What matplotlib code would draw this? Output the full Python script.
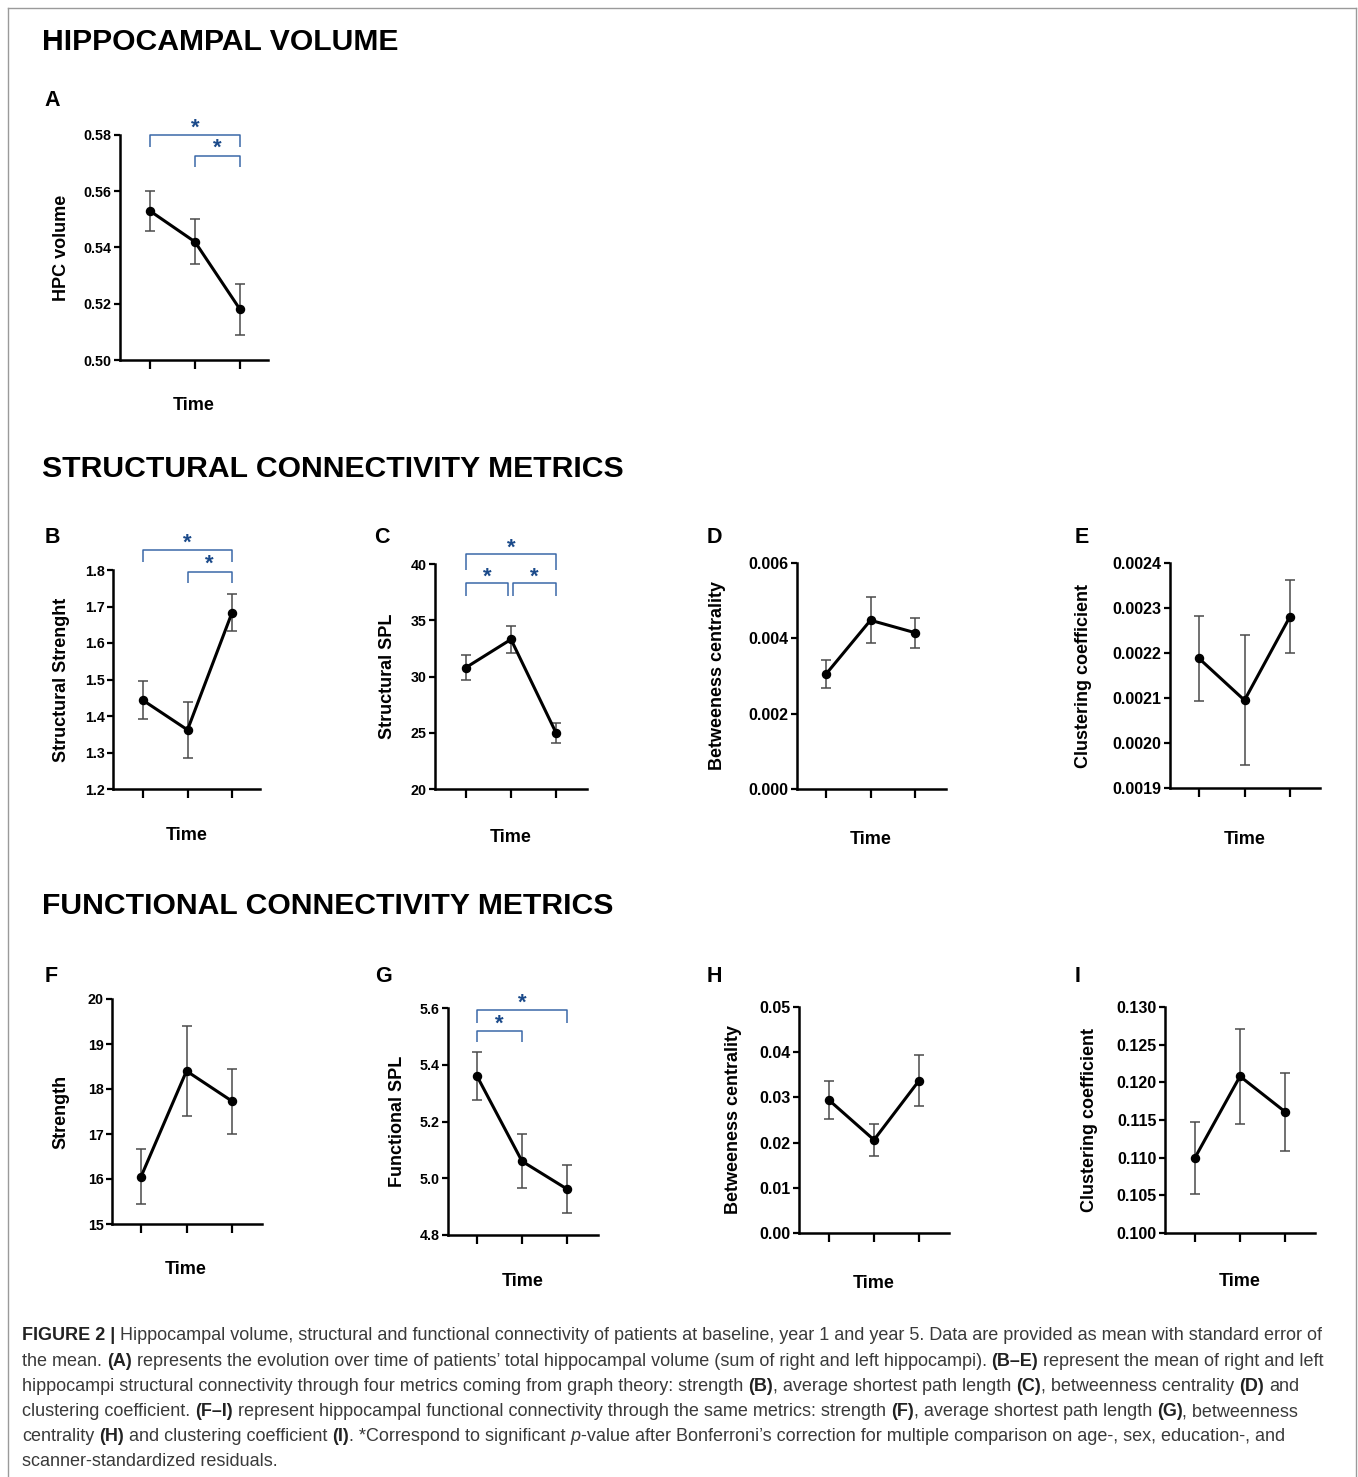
import numpy as np
import matplotlib
matplotlib.use('Agg')
import matplotlib.pyplot as plt
from matplotlib import font_manager
from matplotlib.lines import Line2D

W, H = 1358, 1477
DPI = 100

# ---- data (mean +/- SEM at baseline, year 1, year 5) ----
time_points = [0, 1, 2]

hpc_mean = [0.553, 0.542, 0.518]
hpc_sem = [0.007, 0.008, 0.009]
hpc_ticks = ['0.50', '0.52', '0.54', '0.56', '0.58']

s_str_mean = [1.443, 1.362, 1.683]
s_str_sem = [0.052, 0.076, 0.050]
s_str_ticks = ['1.2', '1.3', '1.4', '1.5', '1.6', '1.7', '1.8']

s_spl_mean = [30.8, 33.3, 25.0]
s_spl_sem = [1.1, 1.2, 0.9]
s_spl_ticks = ['20', '25', '30', '35', '40']

s_bc_mean = [0.00305, 0.00448, 0.00415]
s_bc_sem = [0.00038, 0.00061, 0.00040]
s_bc_ticks = ['0.000', '0.002', '0.004', '0.006']

s_cc_mean = [0.002188, 0.002095, 0.002281]
s_cc_sem = [0.000095, 0.000144, 0.000081]
s_cc_ticks = ['0.0019', '0.0020', '0.0021', '0.0022', '0.0023', '0.0024']

f_str_mean = [16.05, 18.40, 17.73]
f_str_sem = [0.61, 0.99, 0.72]
f_str_ticks = ['15', '16', '17', '18', '19', '20']

f_spl_mean = [5.360, 5.060, 4.962]
f_spl_sem = [0.085, 0.096, 0.083]
f_spl_ticks = ['4.8', '5.0', '5.2', '5.4', '5.6']

f_bc_mean = [0.0294, 0.0206, 0.0337]
f_bc_sem = [0.0042, 0.0036, 0.0057]
f_bc_ticks = ['0.00', '0.01', '0.02', '0.03', '0.04', '0.05']

f_cc_mean = [0.1100, 0.1208, 0.1161]
f_cc_sem = [0.0048, 0.0063, 0.0052]
f_cc_ticks = ['0.100', '0.105', '0.110', '0.115', '0.120', '0.125', '0.130']

# significant pairwise comparisons
sig_A = [(0, 2), (1, 2)]
sig_B = [(0, 2), (1, 2)]
sig_C = [(0, 2), (0, 1), (1, 2)]
sig_G = [(0, 2), (0, 1)]

headings = ['HIPPOCAMPAL VOLUME', 'STRUCTURAL CONNECTIVITY METRICS',
            'FUNCTIONAL CONNECTIVITY METRICS']

caption = [
    '**FIGURE 2 |** Hippocampal volume, structural and functional connectivity of patients at baseline, year 1 and year 5. Data are provided as mean with standard error of',
    'the mean. **(A)** represents the evolution over time of patients\u2019 total hippocampal volume (sum of right and left hippocampi). **(B\u2013E)** represent the mean of right and left',
    'hippocampi structural connectivity through four metrics coming from graph theory: strength **(B)**, average shortest path length **(C)**, betweenness centrality **(D)** and',
    'clustering coefficient. **(F\u2013I)** represent hippocampal functional connectivity through the same metrics: strength **(F)**, average shortest path length **(G)**, betweenness',
    'centrality **(H)** and clustering coefficient **(I)**. *Correspond to significant __p__-value after Bonferroni\u2019s correction for multiple comparison on age-, sex, education-, and',
    'scanner-standardized residuals.',
]

plt.rcParams['font.family'] = ['Liberation Sans', 'DejaVu Sans']

fig = plt.figure(figsize=(W / DPI, H / DPI), dpi=DPI)
fig.patch.set_facecolor('white')


def fx(x):
    return x / W


def fy(y):
    return 1 - y / H


# outer frame
for xs, ys in [([8, 8], [8, H]), ([8, 1356], [8, 8]), ([1356, 1356], [8, H])]:
    fig.add_artist(Line2D([fx(v) for v in xs], [fy(v) for v in ys], color='#9a9a9a', lw=1.0))

# section headings
for txt, yb in zip(headings, [50, 477, 914]):
    fig.text(fx(42), fy(yb), txt, fontsize=21.7, fontweight='bold', va='baseline', ha='left')

BLUE_LINE = '#3a68a8'
BLUE_STAR = '#1b4a8a'

# layout of each panel: axes box (left, top, right, bottom) in px, first tick px, tick spacing px
panels = [
    dict(letter='A', mean=hpc_mean, sem=hpc_sem, ticks=hpc_ticks, ylabel='HPC volume',
         box=(120, 135, 268, 360), x0=150, step=45, tsize=10.3, ylab_x=61,
         letter_xy=(52, 101), time_xy=(194, 406), sig=sig_A,
         sig_px=[(135, 147, 123), (156, 167, 143)]),
    dict(letter='B', mean=s_str_mean, sem=s_str_sem, ticks=s_str_ticks, ylabel='Structural Strenght',
         box=(113, 570, 260, 789), x0=143, step=44.5, tsize=10.3, ylab_x=61,
         letter_xy=(52, 537), time_xy=(187, 835), sig=sig_B,
         sig_px=[(550, 562, 538), (572, 583, 559)]),
    dict(letter='C', mean=s_spl_mean, sem=s_spl_sem, ticks=s_spl_ticks, ylabel='Structural SPL',
         box=(435, 564, 587, 789), x0=466, step=45, tsize=10.3, ylab_x=388,
         letter_xy=(382, 537), time_xy=(511, 837), sig=sig_C,
         sig_px=[(554, 570, 543), (583, 596, 572), (583, 596, 572)]),
    dict(letter='D', mean=s_bc_mean, sem=s_bc_sem, ticks=s_bc_ticks, ylabel='Betweeness centrality',
         box=(797, 563, 946, 789), x0=826, step=44.5, tsize=11.5, ylab_x=718,
         letter_xy=(714, 537), time_xy=(871, 839), sig=[], sig_px=[]),
    dict(letter='E', mean=s_cc_mean, sem=s_cc_sem, ticks=s_cc_ticks, ylabel='Clustering coefficient',
         box=(1170, 563, 1320, 788), x0=1199, step=45.5, tsize=11.5, ylab_x=1083,
         letter_xy=(1082, 537), time_xy=(1245, 839), sig=[], sig_px=[]),
    dict(letter='F', mean=f_str_mean, sem=f_str_sem, ticks=f_str_ticks, ylabel='Strength',
         box=(112, 999, 262, 1224), x0=141, step=45.5, tsize=10.3, ylab_x=61,
         letter_xy=(51, 977), time_xy=(186, 1270), sig=[], sig_px=[]),
    dict(letter='G', mean=f_spl_mean, sem=f_spl_sem, ticks=f_spl_ticks, ylabel='Functional SPL',
         box=(448, 1008, 598, 1235), x0=477, step=45, tsize=10.3, ylab_x=397,
         letter_xy=(383, 977), time_xy=(523, 1282), sig=sig_G,
         sig_px=[(1010, 1023, 998), (1031, 1042, 1019)]),
    dict(letter='H', mean=f_bc_mean, sem=f_bc_sem, ticks=f_bc_ticks, ylabel='Betweeness centrality',
         box=(799, 1007, 949, 1233), x0=829, step=45, tsize=11.5, ylab_x=733,
         letter_xy=(714, 977), time_xy=(874, 1283), sig=[], sig_px=[]),
    dict(letter='I', mean=f_cc_mean, sem=f_cc_sem, ticks=f_cc_ticks, ylabel='Clustering coefficient',
         box=(1165, 1007, 1315, 1233), x0=1195, step=45, tsize=11.5, ylab_x=1090,
         letter_xy=(1078, 977), time_xy=(1240, 1282), sig=[], sig_px=[]),
]

for p in panels:
    l, t, r, b = p['box']
    ax = fig.add_axes([fx(l), fy(b), (r - l) / W, (b - t) / H])
    tick_vals = [float(v) for v in p['ticks']]

    ax.errorbar(time_points, p['mean'], yerr=p['sem'], fmt='none', ecolor='#4a4a4a',
                elinewidth=1.1, capsize=3.8, capthick=1.1, zorder=2)
    ax.plot(time_points, p['mean'], '-o', color='black', lw=2.2, ms=5.8, zorder=3)

    ax.set_xlim(-(p['x0'] - l) / p['step'], (r - p['x0']) / p['step'])
    ax.set_ylim(tick_vals[0], tick_vals[-1])
    ax.set_xticks(time_points)
    ax.set_xticklabels([])
    ax.set_yticks(tick_vals)
    ax.set_yticklabels(p['ticks'], fontsize=p['tsize'], fontweight='bold')
    ax.spines['top'].set_visible(False)
    ax.spines['right'].set_visible(False)
    for s in ['left', 'bottom']:
        ax.spines[s].set_linewidth(1.8)
    ax.tick_params(axis='y', direction='out', length=4.5, width=1.6, pad=1.5)
    ax.tick_params(axis='x', direction='out', length=6.5, width=1.6)
    ax.patch.set_alpha(0)

    # y label, panel letter, "Time"
    fig.text(fx(p['ylab_x']), fy((t + b) / 2), p['ylabel'], rotation=90, ha='center',
             va='center', fontsize=13, fontweight='bold')
    fig.text(fx(p['letter_xy'][0]), fy(p['letter_xy'][1]), p['letter'], ha='center',
             va='center', fontsize=15.5, fontweight='bold')
    fig.text(fx(p['time_xy'][0]), fy(p['time_xy'][1]), 'Time', ha='center', va='center',
             fontsize=13, fontweight='bold')

    # significance brackets
    trans = ax.get_xaxis_transform()
    ends = {}
    for (i, j), (yl, yt, ys) in zip(p['sig'], p['sig_px']):
        ends.setdefault(yl, []).append((i, j))
    for (i, j), (yl, yt, ys) in zip(p['sig'], p['sig_px']):
        xa, xb = float(i), float(j)
        others = [q for q in ends[yl] if q != (i, j)]
        if any(q[1] == i for q in others):
            xa += 0.05
        if any(q[0] == j for q in others):
            xb -= 0.07
        fa = (b - yl) / (b - t)
        fb = (b - yt) / (b - t)
        ax.plot([xa, xa, xb, xb], [fb, fa, fa, fb], color=BLUE_LINE, lw=1.1,
                transform=trans, clip_on=False, solid_capstyle='butt')
        ax.text((xa + xb) / 2, (b - ys - 11) / (b - t), '*', transform=trans, ha='center',
                va='baseline', fontsize=16, fontweight='bold', color=BLUE_STAR, clip_on=False)

# ---- caption ----
names = {f.name for f in font_manager.fontManager.ttflist}
cap_family = 'Liberation Sans Narrow' if 'Liberation Sans Narrow' in names else 'Liberation Sans'
renderer = fig.canvas.get_renderer()


def parse(line):
    segs, buf, bold, ital = [], '', False, False
    i = 0
    while i < len(line):
        if line.startswith('**', i):
            segs.append((buf, bold, ital)); buf = ''; bold = not bold; i += 2
        elif line.startswith('__', i):
            segs.append((buf, bold, ital)); buf = ''; ital = not ital; i += 2
        else:
            buf += line[i]; i += 1
    segs.append((buf, bold, ital))
    return [s for s in segs if s[0]]


def draw_line(x, y, line, size, keep=True):
    sp_t = fig.text(0, 0, '| |', fontsize=size, family=cap_family)
    bar_t = fig.text(0, 0, '||', fontsize=size, family=cap_family)
    sp = sp_t.get_window_extent(renderer).width - bar_t.get_window_extent(renderer).width
    sp_t.remove(); bar_t.remove()
    for txt, bold, ital in parse(line):
        core = txt.strip(' ')
        lead = len(txt) - len(txt.lstrip(' '))
        trail = len(txt) - len(txt.rstrip(' '))
        x += lead * sp
        if core:
            t = fig.text(fx(x), fy(y), core, fontsize=size, family=cap_family,
                         fontweight='bold' if bold else 'normal',
                         fontstyle='italic' if ital else 'normal',
                         color='#222222' if bold else '#3a3a3a', va='center', ha='left')
            x += t.get_window_extent(renderer).width
            if not keep:
                t.remove()
        x += trail * sp
    return x


# fit caption size to the width of the second line
end = draw_line(22, 1361, caption[1], 10, keep=False)
cap_size = 10 * (1325 - 22) / (end - 22)
for k, line in enumerate(caption):
    draw_line(22, 1336 + k * 25.2, line, cap_size)

fig.savefig('out.png', dpi=DPI, facecolor='white')
